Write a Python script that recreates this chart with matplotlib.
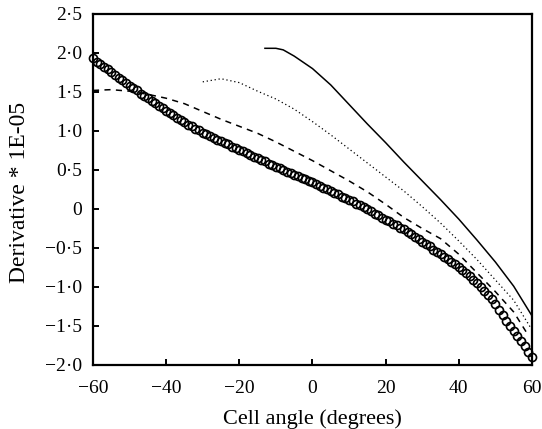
import numpy as np
import matplotlib
matplotlib.use("Agg")
from matplotlib import pyplot as plt

plt.rcParams['font.family'] = ['Liberation Serif', 'DejaVu Serif']

# circles: one point per degree
angle_circles = np.arange(-60, 61, 1)
deriv_circles = [
    1.93, 1.89, 1.86, 1.82, 1.79, 1.75, 1.72, 1.68, 1.65, 1.61,
    1.58, 1.55, 1.52, 1.48, 1.45, 1.42, 1.39, 1.36, 1.32, 1.29,
    1.26, 1.23, 1.20, 1.17, 1.14, 1.11, 1.08, 1.06, 1.03, 1.01,
    0.98, 0.96, 0.94, 0.91, 0.89, 0.87, 0.85, 0.83, 0.80, 0.78,
    0.76, 0.74, 0.72, 0.69, 0.67, 0.65, 0.63, 0.61, 0.58, 0.56,
    0.54, 0.52, 0.50, 0.48, 0.46, 0.44, 0.42, 0.40, 0.38, 0.36,
    0.34, 0.32, 0.30, 0.27, 0.25, 0.23, 0.21, 0.19, 0.16, 0.14,
    0.12, 0.10, 0.07, 0.05, 0.02, 0.00, -0.03, -0.06, -0.08, -0.11,
    -0.14, -0.16, -0.19, -0.21, -0.24, -0.26, -0.29, -0.32, -0.36, -0.39,
    -0.42, -0.45, -0.48, -0.52, -0.55, -0.58, -0.61, -0.64, -0.68, -0.71,
    -0.74, -0.78, -0.82, -0.86, -0.91, -0.95, -1.00, -1.05, -1.10, -1.16,
    -1.22, -1.29, -1.36, -1.43, -1.50, -1.57, -1.63, -1.69, -1.76, -1.83,
    -1.90,
]

angle_dashed = [-60, -55, -50, -45, -40, -35, -30, -25, -20, -15, -10, -5, 0,
                5, 10, 15, 20, 25, 30, 35, 40, 45, 50, 55, 59]
deriv_dashed = [1.52, 1.53, 1.51, 1.47, 1.42, 1.35, 1.25, 1.15, 1.06, 0.97,
                0.86, 0.74, 0.62, 0.49, 0.36, 0.22, 0.06, -0.11, -0.25, -0.38,
                -0.58, -0.82, -1.06, -1.32, -1.62]

angle_dotted = [-30, -25, -20, -15, -10, -5, 0, 5, 10, 15, 20, 25, 30, 35,
                40, 45, 50, 55, 60]
deriv_dotted = [1.63, 1.67, 1.62, 1.51, 1.41, 1.28, 1.12, 0.95, 0.77, 0.59,
                0.41, 0.23, 0.03, -0.18, -0.41, -0.65, -0.91, -1.17, -1.55]

angle_solid = [-13, -10, -8, -5, 0, 5, 10, 15, 20, 25, 30, 35, 40, 45, 50,
               55, 60]
deriv_solid = [2.06, 2.06, 2.04, 1.96, 1.80, 1.59, 1.34, 1.09, 0.85, 0.60,
               0.36, 0.12, -0.13, -0.40, -0.68, -0.99, -1.37]

xticks = [-60, -40, -20, 0, 20, 40, 60]
xtick_labels = ["\u221260", "\u221240", "\u221220", "0", "20", "40", "60"]
yticks = [-2.0, -1.5, -1.0, -0.5, 0, 0.5, 1.0, 1.5, 2.0, 2.5]
ytick_labels = ["\u22122\u00b70", "\u22121\u00b75", "\u22121\u00b70",
                "\u22120\u00b75", "0", "0\u00b75", "1\u00b70", "1\u00b75",
                "2\u00b70", "2\u00b75"]

fig = plt.figure(figsize=(5.42, 4.29), dpi=100)
ax = fig.add_axes([0.1716, 0.1492, 0.8099, 0.8182])

ax.plot(angle_solid, deriv_solid, color="black", lw=1.1, ls="-")
ax.plot(angle_dotted, deriv_dotted, color="black", lw=0.9, ls=(0, (1, 2.2)))
ax.plot(angle_dashed, deriv_dashed, color="black", lw=1.1, ls=(0, (4, 3.5)))
ax.plot(angle_circles, deriv_circles, ls="none", marker="o", ms=5.8,
        mfc="none", mec="black", mew=1.2, clip_on=False, zorder=5)

ax.set_xlim(-60, 60)
ax.set_ylim(-2.0, 2.5)
ax.set_xticks(xticks)
ax.set_xticklabels(xtick_labels)
ax.set_yticks(yticks)
ax.set_yticklabels(ytick_labels)

for s in ax.spines.values():
    s.set_linewidth(1.6)
ax.tick_params(direction="in", length=4, width=1.4, labelsize=14,
               top=False, right=False)
ax.tick_params(axis="x", pad=11)
ax.tick_params(axis="y", pad=8)

ax.set_xlabel("Cell angle (degrees)", fontsize=16)
ax.set_ylabel("Derivative * 1E-05", fontsize=17)
ax.xaxis.set_label_coords(0.5, -0.125)
ax.yaxis.set_label_coords(-0.1435, 0.493)

plt.savefig("out.png", dpi=100)
plt.close()
